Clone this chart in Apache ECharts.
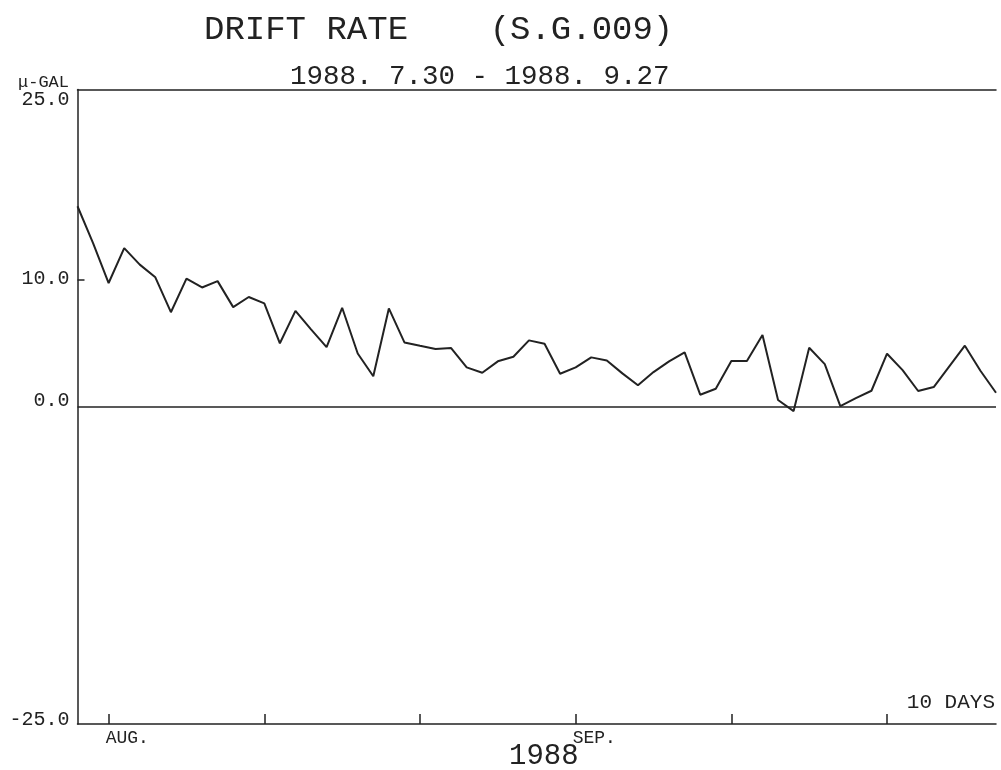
<!DOCTYPE html>
<html>
<head>
<meta charset="utf-8">
<script src="https://cdn.jsdelivr.net/npm/echarts@6/dist/echarts.min.js"></script>
<style>
html,body{margin:0;padding:0;background:#fff;}
#chart{width:1001px;height:770px;}
</style>
</head>
<body>
<div id="chart"></div>
<script>
// ---- data ----
const titleText = 'DRIFT RATE    (S.G.009)';
const subtitleText = '1988. 7.30 - 1988. 9.27';
const yUnit = '\u03BC-GAL';
const yearLabel = '1988';
const spanLabel = '10 DAYS';

// daily points, 1988-07-30 .. 1988-09-27
const startMonth = 7, startDay = 30, dayCount = 60;
const monthLengths = {7: 31, 8: 31, 9: 30};

const driftRate = [
  15.8, 12.9, 9.75, 12.5, 11.2, 10.2, 7.45, 10.1, 9.4, 9.9,
  7.85, 8.65, 8.15, 5.0, 7.55, 6.1, 4.7, 7.8, 4.2, 2.4,
  7.75, 5.07, 4.8, 4.55, 4.62, 3.1, 2.68, 3.58, 3.94, 5.23,
  4.97, 2.6, 3.1, 3.89, 3.65, 2.63, 1.69, 2.73, 3.58, 4.29,
  0.95, 1.42, 3.6, 3.6, 5.65, 0.53, -0.34, 4.65, 3.36, 0.05,
  0.68, 1.26, 4.18, 2.89, 1.24, 1.55, 3.18, 4.81, 2.84, 1.1
];

const xTickIndex = [2, 12, 22, 32, 42, 52];
const monthLabelIndex = [2, 32];
const monthLabels = ['AUG.', 'SEP.'];

const yLabelValues = [-25, 0, 10, 25];
const yTickValues = [10];

// ---- build categories (dates) ----
const dates = [];
{
  let m = startMonth, d = startDay;
  for (let i = 0; i < dayCount; i++) {
    dates.push(m + '.' + d);
    d++;
    if (d > monthLengths[m]) { d = 1; m++; }
  }
}

const INK = '#222';
const FONT = '"Liberation Mono", "DejaVu Sans Mono", monospace';

const chart = echarts.init(document.getElementById('chart'), null, {renderer: 'canvas'});

const option = {
  animation: false,
  backgroundColor: '#fff',
  grid: {left: 77.5, right: 5, top: 89.5, bottom: 46, containLabel: false},
  xAxis: [
    {
      type: 'category',
      data: dates,
      boundaryGap: false,
      position: 'bottom',
      axisLine: {show: true, onZero: false, lineStyle: {color: INK, width: 1.5}},
      axisTick: {
        show: true, inside: true, length: 10,
        interval: (idx) => xTickIndex.includes(idx),
        lineStyle: {color: INK, width: 1.5}
      },
      axisLabel: {
        show: true,
        interval: (idx) => monthLabelIndex.includes(idx),
        formatter: (val, idx) => {
          const k = monthLabelIndex.indexOf(idx);
          return k >= 0 ? monthLabels[k] : '';
        },
        align: 'left',
        margin: 5,
        padding: [0, 0, 0, -3],
        color: INK,
        fontFamily: FONT,
        fontSize: 18
      },
      splitLine: {show: false}
    },
    {
      type: 'category',
      data: dates,
      boundaryGap: false,
      position: 'top',
      axisLine: {show: true, onZero: false, lineStyle: {color: INK, width: 1.5}},
      axisTick: {show: false},
      axisLabel: {show: false},
      splitLine: {show: false}
    }
  ],
  yAxis: {
    type: 'value',
    min: -25,
    max: 25,
    interval: 5,
    axisLine: {show: true, onZero: false, lineStyle: {color: INK, width: 1.5}},
    axisTick: {
      show: true, inside: true, length: 7,
      customValues: yTickValues,
      lineStyle: {color: INK, width: 1.5}
    },
    axisLabel: {
      show: true,
      customValues: yLabelValues,
      margin: 8,
      color: INK,
      fontFamily: FONT,
      fontSize: 20,
      formatter: (v) => {
        const t = v.toFixed(1);
        if (v === 25) return '{dn|' + t + '}';
        if (v === -25) return '{up|' + t + '}';
        if (v === 0) return '{up0|' + t + '}';
        return '{n|' + t + '}';
      },
      rich: {
        dn: {fontFamily: FONT, fontSize: 20, color: INK, padding: [20, 0, 0, 0]},
        up: {fontFamily: FONT, fontSize: 20, color: INK, padding: [0, 0, 9, 0]},
        up0: {fontFamily: FONT, fontSize: 20, color: INK, padding: [0, 0, 12, 0]},
        n: {fontFamily: FONT, fontSize: 20, color: INK, padding: [0, 0, 2, 0]}
      }
    },
    splitLine: {show: false}
  },
  series: [
    {
      type: 'line',
      xAxisIndex: 0,
      data: driftRate,
      showSymbol: false,
      symbol: 'none',
      lineStyle: {color: INK, width: 2},
      markLine: {
        silent: true,
        symbol: ['none', 'none'],
        label: {show: false},
        lineStyle: {color: INK, width: 1.5, type: 'solid'},
        data: [{yAxis: 0}]
      }
    }
  ],
  graphic: [
    {type: 'text', left: 204, top: 13, style: {text: titleText, fill: INK, font: '34px ' + FONT}},
    {type: 'text', left: 290, top: 63, style: {text: subtitleText, fill: INK, font: '27.5px ' + FONT}},
    {type: 'text', right: 1001 - 69, top: 74, style: {text: yUnit, fill: INK, font: '17px ' + FONT}},
    {type: 'text', right: 6, top: 692, style: {text: spanLabel, fill: INK, font: '21px ' + FONT}},
    {type: 'text', left: 509, top: 742, style: {text: yearLabel, fill: INK, font: '29px ' + FONT}}
  ]
};

chart.setOption(option);
</script>
</body>
</html>
